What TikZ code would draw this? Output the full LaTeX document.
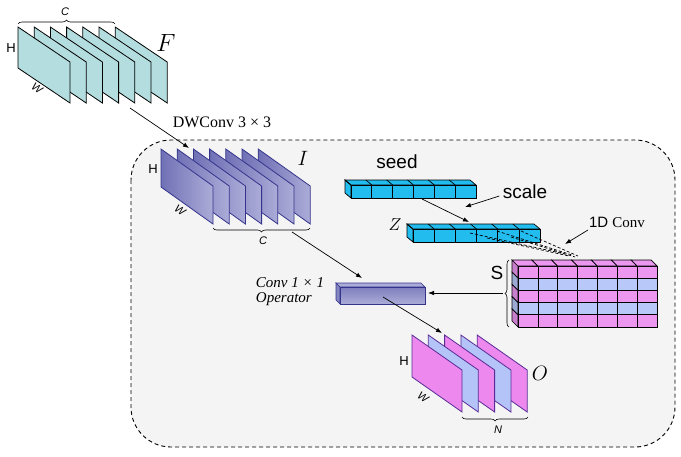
\documentclass[tikz,border=0pt]{standalone}
\usepackage{fontspec}
\setsansfont{Liberation Sans}
\newfontfamily\labelserif{Liberation Serif}
\usepackage{amsmath}
\usepackage{tikz}
\usetikzlibrary{arrows.meta,decorations.pathreplacing}

\definecolor{fcyan}{RGB}{180,221,223}
\definecolor{idark}{RGB}{112,112,182}
\definecolor{ilight}{RGB}{172,172,216}
\definecolor{iedge}{RGB}{52,52,140}
\definecolor{zblue}{RGB}{34,188,238}
\definecolor{spink}{RGB}{236,150,240}
\definecolor{sblue}{RGB}{184,200,248}
\definecolor{opink}{RGB}{236,136,238}
\definecolor{oblue}{RGB}{180,196,248}
\definecolor{oedge}{RGB}{88,44,150}
\definecolor{boxgray}{RGB}{244,244,244}

\begin{document}
\begin{tikzpicture}[x=1pt,y=-1pt,
  arr/.style={-{Latex[length=6pt,width=4.5pt]},line width=0.7pt},
  fslab/.style={draw=black,fill=fcyan,line width=0.8pt},
  islab/.style={draw=iedge,left color=idark,right color=ilight,line width=0.8pt},
  oslab/.style={draw=oedge,fill=#1,line width=0.8pt},
  cell/.style={draw=black,fill=#1,line width=0.7pt},
  brc/.style={decorate,decoration={brace,amplitude=4pt},line width=0.6pt},
  dim/.style={font=\sffamily\fontsize{13}{13}\selectfont},
  dimit/.style={font=\sffamily\itshape\fontsize{11}{11}\selectfont},
  big/.style={font=\sffamily\fontsize{19}{19}\selectfont},
  sym/.style={font=\fontsize{#1}{#1}\selectfont},
  txt/.style={font=\labelserif\fontsize{#1}{#1}\selectfont},
]
  \useasboundingbox[fill=white] (0,0) rectangle (681,456);

  % dashed frame
  \draw[dash pattern=on 4pt off 3pt,line width=0.9pt,fill=boxgray,rounded corners=40pt]
    (131,140) rectangle (675,447);

  % input F
  \foreach \i in {6,...,0}
    \draw[fslab,shift={(16.2*\i,0)}] (18,27) -- ++(0,41) -- ++(52,35) -- ++(0,-41) -- cycle;
  \draw[brc] (18,24) -- (115,24);
  \node[dimit] (cF) at (65,12) {C};
  \node[dim] (hF) at (11,48) {H};
  \node[dimit,rotate=-34] (wF) at (37,88) {W};
  \node[sym=24] (F) at (166,43) {$F$};

  % depthwise output I
  \foreach \i in {6,...,0}
    \draw[islab,shift={(16.2*\i,0)}] (161,149) -- ++(0,38) -- ++(52,37) -- ++(0,-38) -- cycle;
  \draw[brc] (310,228) -- (213,228);
  \node[dimit] (cI) at (263,241) {C};
  \node[dim] (hI) at (153,169) {H};
  \node[dimit,rotate=-34] (wI) at (180,210) {W};
  \node[sym=20] (I) at (303,158) {$I$};

  \coordinate (Fout) at (130,108);
  \coordinate (Iin) at (189,148);
  \draw[arr] (Fout) -- (Iin);
  \node[txt=16] (dw) at (222,122) {DWConv 3 × 3};

  % seed bar
  \begin{scope}[shift={(351,185)}]
    \draw[cell=zblue] (0,0) -- (-6,-5) -- (-6,8) -- (0,13) -- cycle;
    \draw[cell=zblue] (0,0) -- (-6,-5) -- (119,-5) -- (125,0) -- cycle;
    \foreach \k in {0,...,5} {
      \draw[cell=zblue] (20.83*\k,0) rectangle ++(20.83,13);
      \draw[line width=0.7pt] (20.83*\k,0) -- ++(-6,-5);
    }
  \end{scope}
  \node[big] (seed) at (397,162) {seed};

  % Z bar
  \begin{scope}[shift={(413,229)}]
    \draw[cell=zblue] (0,0) -- (-6,-5) -- (-6,8) -- (0,13) -- cycle;
    \draw[cell=zblue] (0,0) -- (-6,-5) -- (121,-5) -- (127,0) -- cycle;
    \foreach \k in {0,...,5} {
      \draw[cell=zblue] (21.17*\k,0) rectangle ++(21.17,13);
      \draw[line width=0.7pt] (21.17*\k,0) -- ++(-6,-5);
    }
  \end{scope}
  \node[sym=16] (Z) at (395,225) {$Z$};

  \coordinate (seedout) at (422,199);
  \coordinate (Zin) at (469,222);
  \draw[arr] (seedout) -- (Zin);
  \node[big] (scale) at (525,192) {scale};
  \coordinate (scaletip) at (465,207);
  \draw[arr] (scale.west) ++(0,4) -- (scaletip);

  % S block
  \begin{scope}[shift={(518,266)}]
    \foreach \r/\c in {0/spink,1/sblue,2/spink,3/sblue,4/spink} {
      \draw[cell=\c!85!black] (0,12.2*\r) -- ++(-6,-6) -- ++(0,12.2) -- ++(6,6) -- cycle;
      \foreach \k in {0,...,6}
        \draw[cell=\c] (19.86*\k,12.2*\r) rectangle ++(19.86,12.2);
    }
    \foreach \k in {0,...,6}
      \draw[cell=spink] (19.86*\k,0) -- ++(-6,-6) -- ++(19.86,0) -- ++(6,6) -- cycle;
  \end{scope}
  \draw[brc] (509,327) -- (509,260);
  \node[big] (S) at (497,273) {S};

  % 1D conv fan
  \foreach \sx/\sy/\ex/\ey in {470/233/565/254, 487/238/569/256, 497/231/572/255, 511/237/575/257, 521/231/578/256} {
    \coordinate (fa) at (\sx,\sy);
    \coordinate (fb) at (\ex,\ey);
    \draw[dash pattern=on 3pt off 2pt,line width=0.7pt] (fa) -- (fb);
  }
  \node[txt=15] (conv1d) at (617,222) {\sffamily 1D \labelserif Conv};
  \coordinate (convtip) at (565,244);
  \draw[arr] (588,230) -- (convtip);

  % conv 1x1 operator
  \begin{scope}[shift={(340,287)}]
    \draw[draw=iedge,fill=idark!85!white,line width=0.7pt] (0,0) -- (-4,-4) -- (-4,13) -- (0,17) -- cycle;
    \draw[draw=iedge,fill=ilight,line width=0.7pt] (0,0) -- (-4,-4) -- (81,-4) -- (85,0) -- cycle;
    \draw[draw=iedge,top color=idark!90!white,bottom color=ilight,line width=0.7pt] (0,0) rectangle (85,17);
  \end{scope}
  \coordinate (conv) at (383,297);
  \node[txt=15,align=left] (op) at (290,292) {\itshape Conv 1 × 1\\\itshape Operator};

  \coordinate (Iout) at (292,232);
  \coordinate (convin) at (362,278);
  \draw[arr] (Iout) -- (convin);
  \coordinate (Sout) at (503,293);
  \coordinate (convright) at (428,293);
  \draw[arr] (Sout) -- (convright);

  % output O
  \foreach \i/\c in {4/opink,3/oblue,2/opink,1/oblue,0/opink}
    \draw[oslab=\c,shift={(16.3*\i,0)}] (412,335) -- ++(0,42) -- ++(50,35) -- ++(0,-42) -- cycle;
  \draw[brc] (528,417) -- (462,417);
  \node[dimit] (nO) at (498,430) {N};
  \node[dim] (hO) at (404,361) {H};
  \node[dimit,rotate=-34] (wO) at (423,397) {W};
  \node[sym=20] (O) at (540,373) {$O$};

  \coordinate (Oin) at (442,333);
  \draw[arr] (conv) -- (Oin);
\end{tikzpicture}
\end{document}
